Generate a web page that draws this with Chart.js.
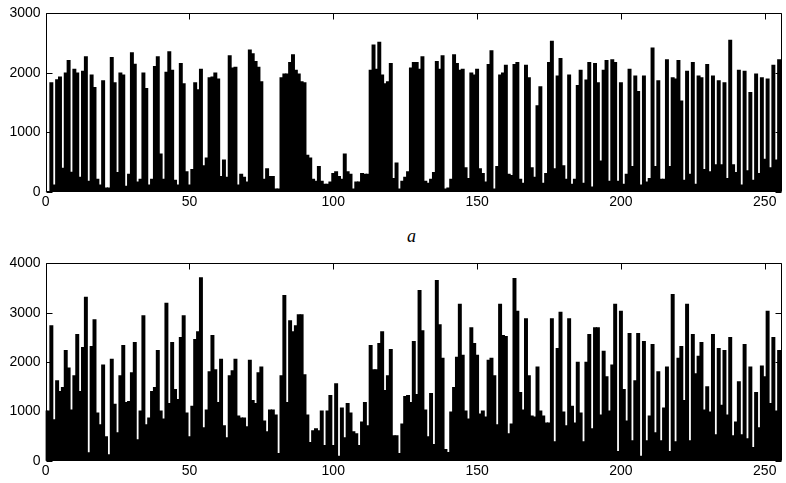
<!DOCTYPE html>
<html>
<head>
<meta charset="utf-8">
<script src="https://cdn.jsdelivr.net/npm/chart.js@4/dist/chart.umd.min.js"></script>
<style>
  body { margin: 0; background: #fff; }
  #wrap { position: relative; width: 786px; height: 483px; background: #fff; }
  .panel { position: absolute; left: 0; width: 786px; }
  #label { position: absolute; left: 407px; top: 226px; font-family: "Liberation Serif", "Times New Roman", serif; font-style: italic; font-size: 18px; color: #000; }
</style>
</head>
<body>
<div id="wrap">
  <div class="panel" style="top:0; height:215px;"><canvas id="topChart"></canvas></div>
  <div id="label">a</div>
  <div class="panel" style="top:250px; height:233px;"><canvas id="bottomChart"></canvas></div>
</div>
<script>
// histogram bins 0..255
const bins = Array.from({ length: 256 }, (_, i) => i);
const xTicks = [0, 50, 100, 150, 200, 250];

// panel a (upper)
const topCounts = [
  0, 0, 1840, 120, 1890, 1935, 400, 2000, 2210, 335, 2065, 2000, 250, 2030, 2275, 185,
  1970, 1760, 215, 120, 1870, 70, 70, 2260, 1840, 330, 2000, 1970, 100, 300, 2340, 2150,
  170, 215, 2000, 1740, 120, 215, 2110, 2275, 640, 215, 2015, 2360, 2050, 200, 120, 2160,
  1820, 345, 120, 380, 1840, 1720, 2065, 445, 575, 1920, 1935, 2000, 1900, 265, 540, 250,
  2290, 2085, 2100, 120, 300, 250, 170, 2390, 2325, 2195, 2100, 1855, 215, 395, 265, 265,
  55, 55, 1920, 1985, 1985, 2180, 2310, 2050, 1985, 1855, 1840, 620, 575, 215, 185, 430,
  185, 135, 135, 170, 315, 345, 265, 215, 640, 345, 300, 55, 170, 170, 315, 300,
  300, 2050, 2470, 2065, 2520, 1970, 1820, 1855, 2160, 230, 490, 55, 185, 250, 345, 2085,
  2180, 2180, 2065, 2275, 185, 150, 215, 330, 2195, 2065, 2290, 55, 70, 215, 2310, 2160,
  2050, 2065, 410, 230, 2000, 1970, 2065, 395, 315, 170, 2145, 2375, 55, 430, 1970, 2000,
  2130, 300, 280, 2145, 2180, 215, 150, 2130, 1920, 410, 250, 1450, 1770, 150, 315, 2180,
  2535, 395, 1950, 2245, 445, 215, 1970, 135, 215, 1790, 2050, 150, 1885, 2180, 85, 2160,
  1840, 525, 2050, 2210, 185, 2225, 2180, 185, 1840, 135, 300, 2065, 430, 1950, 1690, 120,
  1950, 170, 230, 2420, 430, 1870, 215, 215, 2225, 430, 1920, 1900, 2210, 1530, 200, 2030,
  300, 2180, 135, 1950, 1920, 380, 2145, 345, 1950, 460, 1870, 460, 1840, 230, 2550, 460,
  330, 2050, 120, 2030, 360, 1675, 200, 1985, 315, 1920, 555, 1900, 410, 2130, 540, 2225
];
const topYTicks = [0, 1000, 2000, 3000];

// lower panel
const bottomCounts = [
  1010, 1010, 2740, 835, 1625, 1405, 1485, 2240, 1885, 1030, 1725, 2560, 1405, 2300, 3315, 165,
  2320, 2860, 970, 730, 1945, 490, 125, 2060, 1150, 570, 1725, 2340, 1185, 1205, 1785, 2400,
  430, 1010, 2940, 730, 870, 1405, 1485, 2240, 1010, 850, 3195, 1165, 2400, 1445, 1245, 2500,
  2940, 970, 490, 1105, 2460, 2620, 3715, 670, 1030, 1805, 2540, 1845, 1185, 2060, 710, 470,
  1725, 1825, 2060, 910, 870, 870, 690, 2040, 1225, 1165, 1785, 1905, 810, 590, 1030, 1030,
  930, 150, 1725, 3355, 1185, 2840, 2620, 2740, 2960, 2960, 1745, 930, 370, 610, 650, 610,
  1010, 310, 1010, 1325, 310, 1565, 95, 1070, 470, 1165, 970, 590, 550, 310, 790, 1185,
  710, 2340, 1845, 1845, 2380, 2620, 1425, 1725, 2260, 510, 510, 150, 750, 1305, 1325, 1185,
  2420, 1345, 3455, 2640, 1030, 490, 1365, 330, 3655, 2760, 2080, 230, 170, 990, 1485, 2100,
  3175, 2140, 1010, 850, 2700, 2380, 2140, 950, 1010, 890, 2040, 2080, 1725, 730, 3175, 2540,
  2520, 550, 750, 3695, 3035, 1385, 1030, 2880, 1725, 910, 890, 1905, 1010, 910, 770, 770,
  2880, 390, 2280, 3015, 990, 710, 2880, 1105, 770, 2000, 970, 390, 2000, 2560, 650, 2700,
  2700, 930, 2220, 1705, 1010, 1945, 3175, 190, 3035, 1445, 810, 2580, 410, 1625, 2580, 95,
  2420, 410, 910, 2360, 570, 1805, 410, 1070, 1905, 190, 3375, 390, 2080, 2320, 1225, 3175,
  410, 2560, 1765, 2120, 2400, 1030, 1505, 990, 2560, 530, 2280, 1130, 2240, 930, 2500, 510,
  790, 1605, 530, 2360, 450, 1905, 270, 1385, 670, 1925, 1705, 3035, 1165, 2500, 1010, 2240
];
const bottomYTicks = [0, 1000, 2000, 3000, 4000];

// matlab-like box with inward tick marks
const boxPlugin = {
  id: 'box',
  afterDraw(chart) {
    const { ctx, chartArea: a, scales } = chart;
    const L = Math.round(a.left) + 0.5, R = Math.round(a.right) - 0.5;
    const T = Math.round(a.top) + 0.5, B = Math.round(a.bottom) - 0.5;
    const len = 6;
    ctx.save();
    ctx.strokeStyle = '#000';
    ctx.lineWidth = 1;
    ctx.beginPath();
    ctx.rect(L, T, R - L, B - T);
    scales.x.ticks.forEach(t => {
      const px = Math.round(scales.x.getPixelForValue(t.value)) + 0.5;
      ctx.moveTo(px, B); ctx.lineTo(px, B - len);
      ctx.moveTo(px, T); ctx.lineTo(px, T + len);
    });
    scales.y.ticks.forEach(t => {
      const py = Math.round(scales.y.getPixelForValue(t.value)) + 0.5;
      ctx.moveTo(L, py); ctx.lineTo(L + len, py);
      ctx.moveTo(R, py); ctx.lineTo(R - len, py);
    });
    ctx.stroke();
    ctx.restore();
  }
};

function makeChart(id, counts, yTicks, topPad, xAxisHeight) {
  const font = { family: '"Liberation Sans", Arial, sans-serif', size: 14 };
  return new Chart(document.getElementById(id).getContext('2d'), {
    type: 'bar',
    data: {
      datasets: [{
        data: bins.map((b, i) => ({ x: b, y: counts[i] })),
        backgroundColor: '#000',
        borderWidth: 0,
        barThickness: 3.3,
        grouped: false
      }]
    },
    options: {
      responsive: true,
      maintainAspectRatio: false,
      animation: false,
      layout: { padding: { top: topPad, right: 4, left: 0, bottom: 0 } },
      plugins: { legend: { display: false }, tooltip: { enabled: false } },
      scales: {
        x: {
          type: 'linear',
          offset: false,
          min: 0,
          max: 256,
          afterBuildTicks: s => { s.ticks = xTicks.map(v => ({ value: v })); },
          afterFit: s => { s.height = xAxisHeight; },
          grid: { display: false, drawTicks: false },
          border: { display: false },
          ticks: { color: '#000', font: font, padding: 2, maxRotation: 0, callback: v => String(v) }
        },
        y: {
          min: 0,
          max: yTicks[yTicks.length - 1],
          afterBuildTicks: s => { s.ticks = yTicks.map(v => ({ value: v })); },
          afterFit: s => { s.width = 45.6; },
          grid: { display: false, drawTicks: false },
          border: { display: false },
          ticks: { color: '#000', font: font, padding: 5, callback: v => String(v) }
        }
      }
    },
    plugins: [boxPlugin]
  });
}

makeChart('topChart', topCounts, topYTicks, 7.5, 23);
makeChart('bottomChart', bottomCounts, bottomYTicks, 9.3, 22.3);
</script>
</body>
</html>
